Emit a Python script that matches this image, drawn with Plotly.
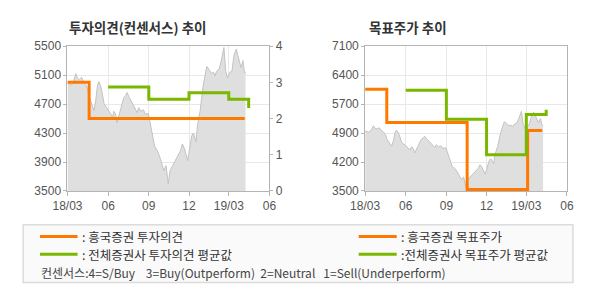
import plotly.graph_objects as go

# ---------------- data ----------------
price_dates = [
    "2018-03-01", "2018-03-05", "2018-03-09", "2018-03-14", "2018-03-20", "2018-03-23",
    "2018-03-28", "2018-04-02", "2018-04-06", "2018-04-11", "2018-04-16", "2018-04-20",
    "2018-04-25", "2018-04-30", "2018-05-04", "2018-05-08", "2018-05-11", "2018-05-15",
    "2018-05-18", "2018-05-23", "2018-05-28", "2018-06-01", "2018-06-06", "2018-06-11",
    "2018-06-14", "2018-06-18", "2018-06-21", "2018-06-26", "2018-07-02", "2018-07-06",
    "2018-07-11", "2018-07-14", "2018-07-18", "2018-07-23", "2018-07-27", "2018-08-01",
    "2018-08-06", "2018-08-09", "2018-08-14", "2018-08-20", "2018-08-24", "2018-08-31",
    "2018-09-05", "2018-09-10", "2018-09-14", "2018-09-18", "2018-09-21", "2018-09-27",
    "2018-10-02", "2018-10-05", "2018-10-10", "2018-10-15", "2018-10-19", "2018-10-24",
    "2018-10-29", "2018-11-02", "2018-11-07", "2018-11-12", "2018-11-16", "2018-11-21",
    "2018-11-28", "2018-12-03", "2018-12-07", "2018-12-11", "2018-12-17", "2018-12-20",
    "2018-12-26", "2019-01-02", "2019-01-07", "2019-01-10", "2019-01-15", "2019-01-21",
    "2019-01-25", "2019-01-29", "2019-02-01", "2019-02-07", "2019-02-12", "2019-02-18",
    "2019-02-22", "2019-02-26", "2019-03-04", "2019-03-08", "2019-03-13", "2019-03-18",
    "2019-03-21", "2019-03-26", "2019-03-29", "2019-04-02", "2019-04-05", "2019-04-08",
]
price_values = [
    4990, 4980, 4960, 5000, 5120, 5060,
    5040, 5070, 5010, 4970, 4900, 4780,
    4700, 4610, 4750, 4960, 5010, 4950,
    4870, 4700, 4660, 4620, 4580, 4520,
    4600, 4560, 4440, 4560, 4700, 4780,
    4820, 4860, 4800, 4740, 4700, 4620,
    4580, 4650, 4600, 4620, 4560, 4570,
    4420, 4250, 4120, 4080, 4050, 3950,
    3830, 3780, 3850, 3600, 3780, 3840,
    3880, 3950, 3990, 4060, 4150, 4080,
    3920, 4150, 4260, 4300, 4180, 4400,
    4600, 4950, 5120, 5220, 5180, 5120,
    5140, 5090, 5150, 5180, 5300, 5480,
    5150, 5060, 5140, 5150, 5380, 5460,
    5380, 5270, 5200, 5300, 5160, 5120,
]

# investment opinion (consensus score)
op_hk_dates = ["2018-03-01", "2018-04-19", "2019-04-06"]
op_hk_values = [3, 2, 2]
op_avg_dates = ["2018-06-01", "2018-09-01", "2018-12-01", "2019-03-01", "2019-04-15"]
op_avg_values = [2.87, 2.53, 2.71, 2.53, 2.29]

# target price
tp_hk_dates = ["2018-03-01", "2018-04-19", "2018-10-18", "2019-03-04", "2019-04-06"]
tp_hk_values = [6030, 5200, 3540, 5000, 5000]
tp_avg_dates = ["2018-06-01", "2018-09-01", "2018-12-01", "2019-03-01", "2019-04-15"]
tp_avg_values = [6000, 5280, 4400, 5400, 5520]

x_tickvals = ["2018-03-01", "2018-06-01", "2018-09-01", "2018-12-01", "2019-03-01", "2019-06-01"]
x_ticktext = ["18/03", "06", "09", "12", "19/03", "06"]
y1_ticks = [3500, 3900, 4300, 4700, 5100, 5500]
y2_ticks = [0, 1, 2, 3, 4]
y3_tickvals = [3500, 4220, 4940, 5660, 6380, 7100]
y3_ticktext = ["3500", "4200", "4900", "5700", "6400", "7100"]

legend_labels = [": 흥국증권 투자의견", ": 전체증권사 투자의견 평균값",
                 ": 흥국증권 목표주가", ":전체증권사 목표주가 평균값"]
consensus_note = "컨센서스:4=S/Buy    3=Buy(Outperform)  2=Neutral   1=Sell(Underperform)"

# ---------------- styles ----------------
W, H = 590, 300
ORANGE = "#ff7800"
GREEN = "#7ab800"
AREA = "#dfdfdf"
AREA_LINE = "#c2c2c2"
AXIS = "#b4b4b4"
GRID = "#e8e8e8"
TICKFONT = dict(family="Liberation Sans, Arial, sans-serif", size=12, color="#555555")
KFONT = "Noto Sans CJK KR, sans-serif"

def px_x(p):
    return p / W

def px_y(p):
    return 1 - p / H

fig = go.Figure()

# left chart
fig.add_trace(go.Scatter(x=price_dates, y=price_values, mode="lines", fill="tozeroy",
                         fillcolor=AREA, line=dict(color=AREA_LINE, width=1),
                         xaxis="x", yaxis="y", showlegend=False, hoverinfo="skip"))
fig.add_trace(go.Scatter(x=op_hk_dates, y=op_hk_values, mode="lines", line_shape="hv",
                         line=dict(color=ORANGE, width=3), xaxis="x", yaxis="y2",
                         showlegend=False))
fig.add_trace(go.Scatter(x=op_avg_dates, y=op_avg_values, mode="lines", line_shape="hv",
                         line=dict(color=GREEN, width=3), xaxis="x", yaxis="y2",
                         showlegend=False))

# right chart
fig.add_trace(go.Scatter(x=price_dates, y=price_values, mode="lines", fill="tozeroy",
                         fillcolor=AREA, line=dict(color=AREA_LINE, width=1),
                         xaxis="x2", yaxis="y3", showlegend=False, hoverinfo="skip"))
fig.add_trace(go.Scatter(x=tp_hk_dates, y=tp_hk_values, mode="lines", line_shape="hv",
                         line=dict(color=ORANGE, width=3), xaxis="x2", yaxis="y3",
                         showlegend=False))
fig.add_trace(go.Scatter(x=tp_avg_dates, y=tp_avg_values, mode="lines", line_shape="hv",
                         line=dict(color=GREEN, width=3), xaxis="x2", yaxis="y3",
                         showlegend=False))

x_common = dict(type="date", range=["2018-03-01", "2019-06-01"], tickmode="array",
                tickvals=x_tickvals, ticktext=x_ticktext, showgrid=True, gridcolor=GRID,
                gridwidth=1, showline=True, linecolor=AXIS, linewidth=1, mirror=True,
                ticks="outside", ticklen=4, tickcolor=AXIS, tickfont=TICKFONT,
                zeroline=False, fixedrange=True)
y_common = dict(showgrid=True, gridcolor=GRID, gridwidth=1, showline=True, linecolor=AXIS,
                linewidth=1, mirror=True, ticks="outside", ticklen=3, tickcolor=AXIS,
                tickfont=TICKFONT, zeroline=False, fixedrange=True)

L_dom = [px_x(54.5), px_x(264.3)]
R_dom = [px_x(363.7), px_x(573.3)]
Y_dom = [px_y(193), px_y(41)]

fig.update_layout(
    width=W, height=H, margin=dict(l=0, r=0, t=0, b=0),
    paper_bgcolor="white", plot_bgcolor="white",
    xaxis=dict(domain=L_dom, anchor="y", **x_common),
    yaxis=dict(domain=Y_dom, anchor="x", range=[3500, 5500], tickmode="array",
               tickvals=y1_ticks, **y_common),
    yaxis2=dict(overlaying="y", anchor="x", side="right", range=[0, 4], tickmode="array",
                tickvals=y2_ticks, showgrid=False, showline=True, linecolor=AXIS,
                ticks="outside", ticklen=3, tickcolor=AXIS, tickfont=TICKFONT,
                zeroline=False, fixedrange=True),
    xaxis2=dict(domain=R_dom, anchor="y3", **x_common),
    yaxis3=dict(domain=Y_dom, anchor="x2", range=[3500, 7100], tickmode="array",
                tickvals=y3_tickvals, ticktext=y3_ticktext, **y_common),
    hovermode=False,
)

# titles
fig.add_annotation(x=px_x(54), y=px_y(21), xref="paper", yref="paper", xanchor="left",
                   yanchor="middle", showarrow=False, text="<b>투자의견(컨센서스) 추이</b>",
                   font=dict(family=KFONT, size=13.5, color="#333333"))
fig.add_annotation(x=px_x(366), y=px_y(21), xref="paper", yref="paper", xanchor="left",
                   yanchor="middle", showarrow=False, text="<b>목표주가 추이</b>",
                   font=dict(family=KFONT, size=13.5, color="#333333"))

# legend box
fig.add_shape(type="rect", xref="paper", yref="paper", x0=px_x(8.5), x1=px_x(579.5),
              y0=px_y(289), y1=px_y(228.5), fillcolor="#fafafa",
              line=dict(color="#dcdcdc", width=1.5), layer="below")

legend_items = [
    (26, 65, 240.7, ORANGE, 68, legend_labels[0]),
    (26, 65, 259.3, GREEN, 68, legend_labels[1]),
    (357, 396.5, 240.7, ORANGE, 399, legend_labels[2]),
    (357, 396.5, 259.3, GREEN, 399, legend_labels[3]),
]
for x0, x1, yy, col, tx, label in legend_items:
    fig.add_shape(type="line", xref="paper", yref="paper", x0=px_x(x0), x1=px_x(x1),
                  y0=px_y(yy), y1=px_y(yy), line=dict(color=col, width=3))
    fig.add_annotation(x=px_x(tx), y=px_y(yy), xref="paper", yref="paper", xanchor="left",
                       yanchor="middle", showarrow=False, text=label,
                       font=dict(family=KFONT, size=12.5, color="#333333"))

fig.add_annotation(x=px_x(25), y=px_y(279), xref="paper", yref="paper", xanchor="left",
                   yanchor="middle", showarrow=False, text=consensus_note.replace(" ", "&nbsp;"),
                   font=dict(family=KFONT, size=12, color="#444444"))

fig.write_html("out.html")
